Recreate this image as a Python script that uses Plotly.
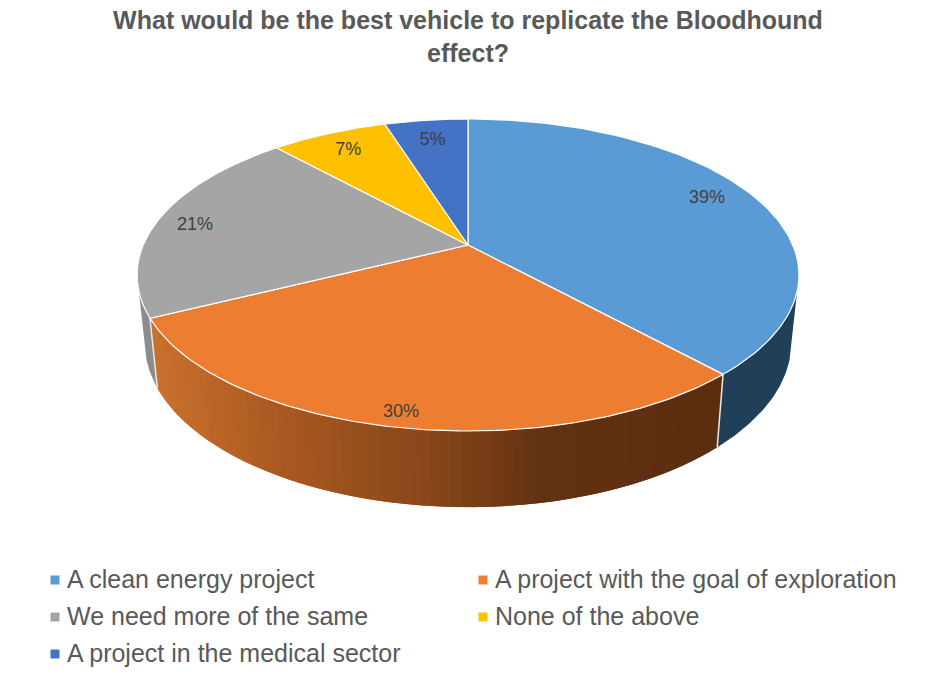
import numpy as np
import plotly.graph_objects as go

# ---- data ----
categories = ["A clean energy project", "A project with the goal of exploration",
              "We need more of the same", "None of the above", "A project in the medical sector"]
values = [39, 30, 21, 7, 5]
title_text = "What would be the best vehicle to replicate the Bloodhound<br>effect?"

# ---- style ----
top_colors = ["#5B9BD5", "#ED7D31", "#A5A5A5", "#FFC000", "#4472C4"]
wall_colors = ["#223F58", None, "#8C8C8C", None, None]
gradient_stops = [(150, (204, 114, 46)), (300, (168, 88, 34)), (450, (135, 70, 26)),
                  (560, (98, 50, 18)), (720, (92, 46, 16))]
label_radius = [0.855, 0.927, 0.876, 0.841, 0.826]
label_turn = [-2.3, 0.0, -1.0, 0.0, 0.0]
GRAY = "#595959"

# ---- projection of the pie disc onto the page (perspective view) ----
CX, CY, K, A, B, C = 468.0, 275.0, 0.1923, 324.8, 156.0, 30.0
B2, C2, S2 = 151.8, -35.7, 0.977


def top(theta, r=1.0):
    t = np.radians(theta)
    u, v = r * np.sin(t), r * np.cos(t)
    d = 1 + K * v
    return CX + A * u / d, CY - (B * v + C) / d


def bottom(theta):
    t = np.radians(theta)
    u, v = np.sin(t), np.cos(t)
    d = 1 + K * v
    return CX + S2 * A * u / d, CY - (B2 * v + C2) / d


def grad(x):
    xs = [s[0] for s in gradient_stops]
    return "rgb(%d,%d,%d)" % tuple(np.interp(x, xs, [s[1][i] for s in gradient_stops]) for i in range(3))


total = sum(values)
cum = np.cumsum([0] + values) / total * 360
fig = go.Figure()


def poly(xs, ys, fill, line=None, width=1.0):
    fig.add_trace(go.Scatter(x=list(xs), y=list(ys), mode="lines", fill="toself", fillcolor=fill,
                             line=dict(color=line or fill, width=width), hoverinfo="skip", showlegend=False))


WALL_MIN, WALL_MAX = 107.0, 253.0
# side walls
for i in range(len(values)):
    a0, a1 = max(cum[i], WALL_MIN), min(cum[i + 1], WALL_MAX)
    if a0 >= a1:
        continue
    if wall_colors[i] is not None:
        th = np.linspace(a0, a1, 60)
        tx, ty = top(th)
        bx, by = bottom(th)
        poly(np.r_[tx, bx[::-1]], np.r_[ty, by[::-1]], wall_colors[i], width=0)
    else:
        edges = np.linspace(a0, a1, 72)
        # painted from the right so each band overlaps the previous one and no seam shows
        for j in range(len(edges) - 2, -1, -1):
            th = np.array([edges[j], edges[min(j + 2, len(edges) - 1)]])
            tx, ty = top(th)
            bx, by = bottom(th)
            poly(np.r_[tx, bx[::-1]], np.r_[ty, by[::-1]], grad(float(tx[0])), width=0)

# white seams between the walls
for i in range(1, len(values)):
    if WALL_MIN < cum[i] < WALL_MAX:
        tx, ty = top(cum[i])
        bx, by = bottom(cum[i])
        fig.add_trace(go.Scatter(x=[tx, bx], y=[ty, by], mode="lines", line=dict(color="#E8E8E8", width=1.5),
                                 hoverinfo="skip", showlegend=False))

# top face
for i in range(len(values)):
    th = np.linspace(cum[i], cum[i + 1], 120)
    rx, ry = top(th)
    ax, ay = top(0.0, 0.0)
    poly(np.r_[ax, rx, ax], np.r_[ay, ry, ay], top_colors[i], line="#FFFFFF", width=1.2)

# percentage labels
mids = (cum[:-1] + cum[1:]) / 2
lx, ly = zip(*[top(m + d, r) for m, d, r in zip(mids, label_turn, label_radius)])
fig.add_trace(go.Scatter(x=lx, y=[y + 1.5 for y in ly], mode="text", text=[f"{v}%" for v in values],
                         textfont=dict(family="Liberation Sans", size=18, color="#404040"),
                         hoverinfo="skip", showlegend=False))

# legend
leg_col = [55, 483, 55, 483, 55]
leg_row = [580, 580, 617, 617, 654]
fig.add_trace(go.Scatter(x=leg_col, y=leg_row, mode="markers",
                         marker=dict(symbol="square", size=9, color=top_colors),
                         hoverinfo="skip", showlegend=False))
annotations = [dict(x=c + 10, y=r - 1, xref="x", yref="y", text=n, showarrow=False, xanchor="left",
                    yanchor="middle", font=dict(family="Liberation Sans", size=25, color=GRAY))
               for n, c, r in zip(categories, leg_col, leg_row)]

fig.update_layout(
    width=940, height=677, margin=dict(l=0, r=0, t=0, b=0),
    paper_bgcolor="white", plot_bgcolor="white", showlegend=False,
    xaxis=dict(range=[0, 940], visible=False, fixedrange=True),
    yaxis=dict(range=[677, 0], visible=False, fixedrange=True),
    annotations=annotations,
    title=dict(text=title_text, x=468 / 940, xanchor="center", y=1 - 29 / 677, yanchor="top",
               pad=dict(t=0), font=dict(family="Liberation Sans", size=25, color=GRAY, weight="bold")),
)
fig.write_html("out.html", config=dict(displayModeBar=False),
               post_script="document.body.style.margin='0';document.body.style.overflow='hidden';")
